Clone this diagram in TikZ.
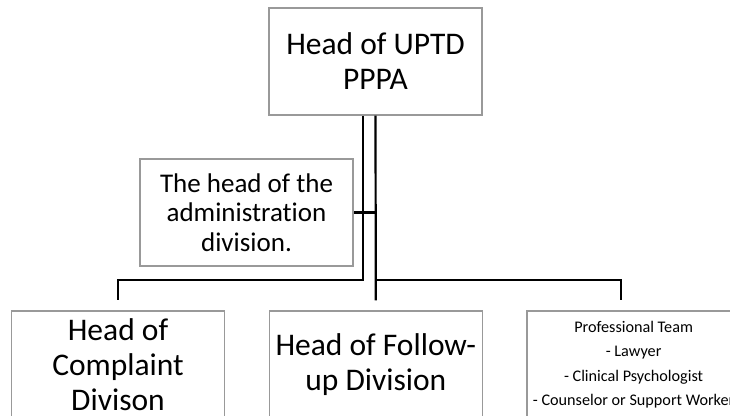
\documentclass[tikz,border=0pt]{standalone}
\usepackage{fontspec}
\setmainfont{Carlito}[Ligatures=NoCommon]
\usepackage{tikz}
\usetikzlibrary{positioning}

\begin{document}
\begin{tikzpicture}[
    x=1pt, y=-1pt,
    box/.style={rectangle, draw=black!40, line width=1.3pt, minimum width=213pt, minimum height=107pt, align=center, inner sep=0pt},
    link/.style={line width=2.2pt}
]
    \useasboundingbox (0,0) rectangle (730,415);
    \clip (0,0) rectangle (730,415);

    \node[box, font=\fontsize{31.5}{35}\selectfont] (head) at (375.5,61.5) {Head of UPTD\\PPPA};
    \node[box, font=\fontsize{27}{29.5}\selectfont] (admin) at (246.5,212.5) {The head of the\\administration\\division.};
    \node[box, font=\fontsize{31.5}{35}\selectfont] (complaint) at (118,364.5) {Head of\\Complaint\\Divison};
    \node[box, right=43.5pt of complaint, font=\fontsize{31.5}{35}\selectfont] (follow) {Head of Follow-\\up Division};
    \node[box, right=43.5pt of follow, font=\fontsize{16.2}{24.5}\selectfont] (team) {Professional Team\\- Lawyer\\- Clinical Psychologist\\- Counselor or Support Worker};

    \coordinate (lstem) at ([xshift=-12.5pt]head.south);
    \coordinate (bus) at (0,280);

    \draw[link] (lstem) -- (lstem |- bus) -| ([yshift=10pt]complaint.north);
    \draw[link] (head.south) -- ([yshift=10pt]follow.north);
    \draw[link] (head.south |- admin.east) -- (admin.east);
    \draw[link] (head.south |- bus) -| ([xshift=-12.5pt,yshift=10pt]team.north);
\end{tikzpicture}
\end{document}
